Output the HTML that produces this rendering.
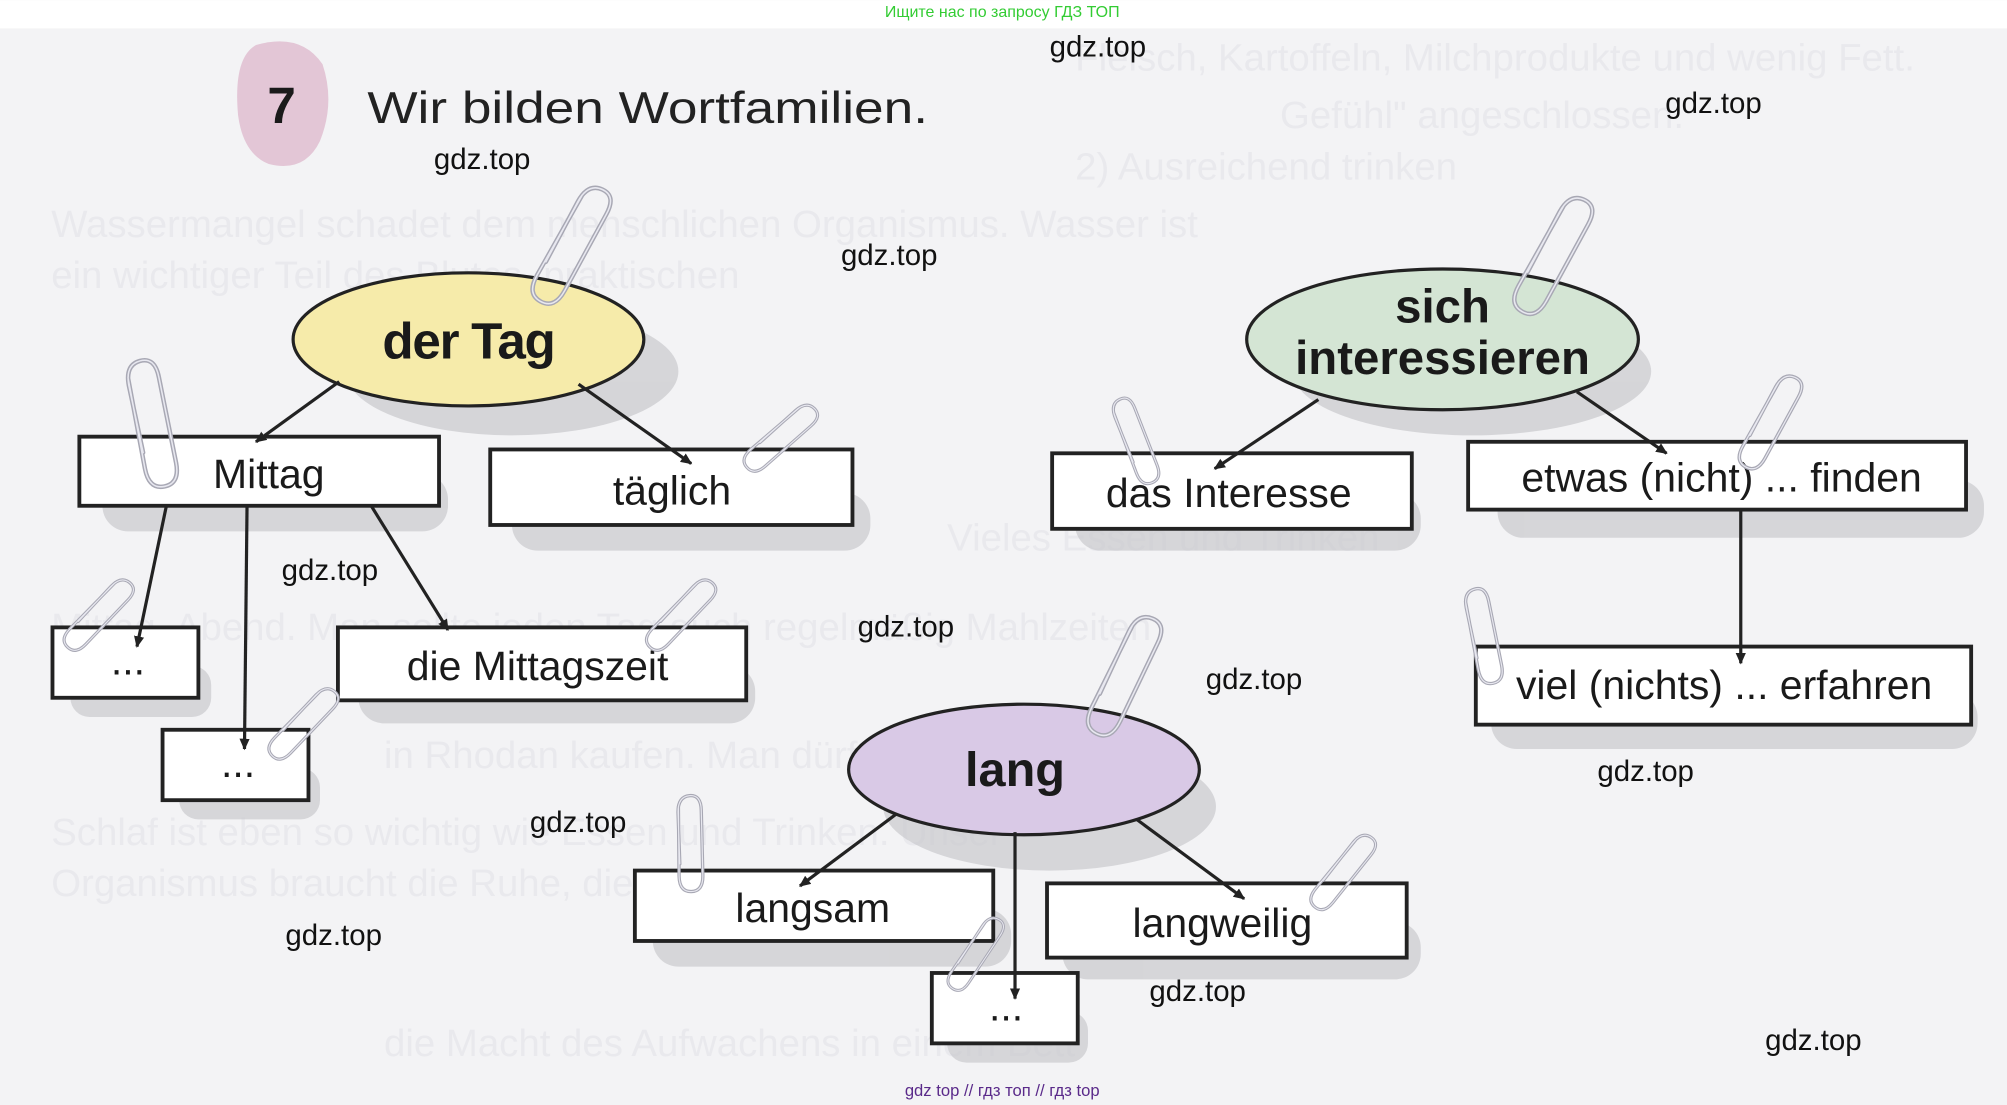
<!DOCTYPE html>
<html><head><meta charset="utf-8"><style>
html,body{margin:0;padding:0;background:#f3f3f5;}
svg{display:block;}
text{font-family:"Liberation Sans",sans-serif;}
</style></head><body>
<svg width="2007" height="1105" viewBox="0 0 1568 863" xmlns="http://www.w3.org/2000/svg">
<defs>
<marker id="a" markerWidth="10" markerHeight="10" refX="8" refY="5" orient="auto" markerUnits="userSpaceOnUse"><path d="M0,1 L9,5 L0,9 Z" fill="#222"/></marker>
<g id="clip"><path d="M0,0 L-18,70 Q-22,86 -10,89 Q2,92 6,76 L22,10 Q26,-6 14,-8 Q2,-10 -2,6 L-14,58" fill="none" stroke="#a8a8b4" stroke-width="3.5" stroke-linecap="round"/><path d="M0,0 L-18,70 Q-22,86 -10,89 Q2,92 6,76 L22,10 Q26,-6 14,-8 Q2,-10 -2,6 L-14,58" fill="none" stroke="#e8e8f0" stroke-width="1.2" stroke-linecap="round"/></g>
</defs>
<rect width="1568" height="863" fill="#f3f3f5"/>
<rect width="1568" height="22" fill="#ffffff"/>
<text x="783" y="13" font-size="12.5" fill="#33cc33" text-anchor="middle">Ищите нас по запросу ГДЗ ТОП</text>
<g fill="#e9e9ed" font-size="30" font-family="Liberation Serif">
<text x="840" y="55">Fleisch, Kartoffeln, Milchprodukte und wenig Fett.</text>
<text x="1000" y="100">Gefühl" angeschlossen.</text>
<text x="840" y="140">2) Ausreichend trinken</text>
<text x="40" y="185">Wassermangel schadet dem menschlichen Organismus. Wasser ist</text>
<text x="40" y="225">ein wichtiger Teil des Blutes, praktischen</text>
<text x="740" y="430">Vieles Essen und Trinken</text>
<text x="40" y="500">Mittag, Abend. Man sollte jeden Tag auch regelmäßig Mahlzeiten</text>
<text x="300" y="600">in Rhodan kaufen. Man dürfen wir bestimmen</text>
<text x="40" y="660">Schlaf ist eben so wichtig wie Essen und Trinken. Unser</text>
<text x="40" y="700">Organismus braucht die Ruhe, die regelmäßig zu</text>
<text x="300" y="825">die Macht des Aufwachens in einem Bett</text>
</g>
<g fill="#c9c9cd" opacity="0.7">
<ellipse cx="400" cy="290" rx="130" ry="50"/>
<ellipse cx="1150" cy="290" rx="140" ry="50"/>
<ellipse cx="820" cy="630" rx="130" ry="50"/>
<rect x="80" y="370" width="270" height="45" rx="20"/>
<rect x="400" y="385" width="280" height="45" rx="20"/>
<rect x="280" y="520" width="310" height="45" rx="20"/>
<rect x="840" y="385" width="270" height="45" rx="20"/>
<rect x="1170" y="375" width="380" height="45" rx="20"/>
<rect x="1165" y="540" width="380" height="45" rx="20"/>
<rect x="510" y="710" width="280" height="45" rx="20"/>
<rect x="830" y="720" width="280" height="45" rx="20"/>
<rect x="55" y="520" width="110" height="40" rx="15"/>
<rect x="140" y="600" width="110" height="40" rx="15"/>
<rect x="740" y="790" width="110" height="40" rx="15"/>
</g>
<path d="M200,35 Q235,25 252,50 Q262,80 250,110 Q238,135 210,128 Q190,120 186,90 Q182,45 200,35 Z" fill="#e3c6d6"/>
<text x="220" y="96" font-size="40" font-weight="bold" fill="#1a1a1a" text-anchor="middle">7</text>
<text x="287" y="96" font-size="35" fill="#222" textLength="438" lengthAdjust="spacingAndGlyphs">Wir  bilden  Wortfamilien.</text>
<ellipse cx="366" cy="265" rx="137" ry="52" fill="#f6ebaa" stroke="#222" stroke-width="2.5"/>
<text x="366" y="280" font-size="40" font-weight="bold" fill="#1a1a1a" text-anchor="middle" letter-spacing="-1">der Tag</text>
<ellipse cx="1127" cy="265" rx="153" ry="55" fill="#d4e5d4" stroke="#222" stroke-width="2.5"/>
<text x="1127" y="252" font-size="37" font-weight="bold" fill="#1a1a1a" text-anchor="middle">sich</text>
<text x="1127" y="292" font-size="37" font-weight="bold" fill="#1a1a1a" text-anchor="middle">interessieren</text>
<ellipse cx="800" cy="601" rx="137" ry="51" fill="#d9c9e6" stroke="#222" stroke-width="2.5"/>
<text x="793" y="614" font-size="38" font-weight="bold" fill="#1a1a1a" text-anchor="middle">lang</text>
<g fill="#ffffff" stroke="#222" stroke-width="3">
<rect x="62" y="341" width="281" height="54"/>
<rect x="383" y="351" width="283" height="59"/>
<rect x="41" y="490" width="114" height="55"/>
<rect x="127" y="570" width="114" height="55"/>
<rect x="264" y="490" width="319" height="57"/>
<rect x="822" y="354" width="281" height="59"/>
<rect x="1147" y="345" width="389" height="53"/>
<rect x="1153" y="505" width="387" height="61"/>
<rect x="496" y="680" width="280" height="55"/>
<rect x="818" y="690" width="281" height="58"/>
<rect x="728" y="760" width="114" height="55"/>
</g>
<g stroke="#222" stroke-width="2.5" fill="none" marker-end="url(#a)">
<line x1="265" y1="298" x2="200" y2="345"/>
<line x1="452" y1="300" x2="540" y2="362"/>
<line x1="130" y1="395" x2="107" y2="505"/>
<line x1="193" y1="395" x2="191" y2="585"/>
<line x1="290" y1="395" x2="350" y2="492"/>
<line x1="1030" y1="312" x2="949" y2="366"/>
<line x1="1232" y1="306" x2="1302" y2="354"/>
<line x1="1360" y1="398" x2="1360" y2="518"/>
<line x1="700" y1="636" x2="625" y2="692"/>
<line x1="888" y1="640" x2="972" y2="702"/>
<line x1="793" y1="650" x2="793" y2="780"/>
</g>
<g font-size="32" fill="#1a1a1a" text-anchor="middle">
<text x="210" y="381">Mittag</text>
<text x="525" y="394">täglich</text>
<text x="100" y="527">...</text>
<text x="186" y="607">...</text>
<text x="420" y="531">die Mittagszeit</text>
<text x="960" y="396">das Interesse</text>
<text x="1345" y="384">etwas (nicht) ... finden</text>
<text x="1347" y="546">viel (nichts) ... erfahren</text>
<text x="635" y="720">langsam</text>
<text x="955" y="732">langweilig</text>
<text x="786" y="797">...</text>
</g>
<use href="#clip" transform="translate(455,152) rotate(15)"/>
<use href="#clip" transform="translate(1222,160) rotate(15)"/>
<use href="#clip" transform="translate(100,295) rotate(-25)"/>
<use href="#clip" transform="translate(625,318) rotate(35) scale(0.7)"/>
<use href="#clip" transform="translate(870,322) rotate(-35) scale(0.7)"/>
<use href="#clip" transform="translate(1390,298) rotate(15) scale(0.8)"/>
<use href="#clip" transform="translate(90,455) rotate(30) scale(0.7)"/>
<use href="#clip" transform="translate(545,455) rotate(30) scale(0.7)"/>
<use href="#clip" transform="translate(250,540) rotate(30) scale(0.7)"/>
<use href="#clip" transform="translate(885,488) rotate(12)"/>
<use href="#clip" transform="translate(1145,470) rotate(-25) scale(0.75)"/>
<use href="#clip" transform="translate(530,630) rotate(-15) scale(0.75)"/>
<use href="#clip" transform="translate(1060,655) rotate(25) scale(0.7)"/>
<use href="#clip" transform="translate(770,720) rotate(20) scale(0.65)"/>
<g font-size="23" fill="#111">
<text x="820" y="44">gdz.top</text>
<text x="1301" y="88">gdz.top</text>
<text x="339" y="132">gdz.top</text>
<text x="657" y="207">gdz.top</text>
<text x="220" y="453">gdz.top</text>
<text x="670" y="497">gdz.top</text>
<text x="942" y="538">gdz.top</text>
<text x="1248" y="610">gdz.top</text>
<text x="414" y="650">gdz.top</text>
<text x="223" y="738">gdz.top</text>
<text x="898" y="782">gdz.top</text>
<text x="1379" y="820">gdz.top</text>
</g>
<text x="783" y="856" font-size="13" fill="#5a2a8a" text-anchor="middle">gdz top  //  гдз топ  //  гдз top</text>
</svg>
</body></html>
